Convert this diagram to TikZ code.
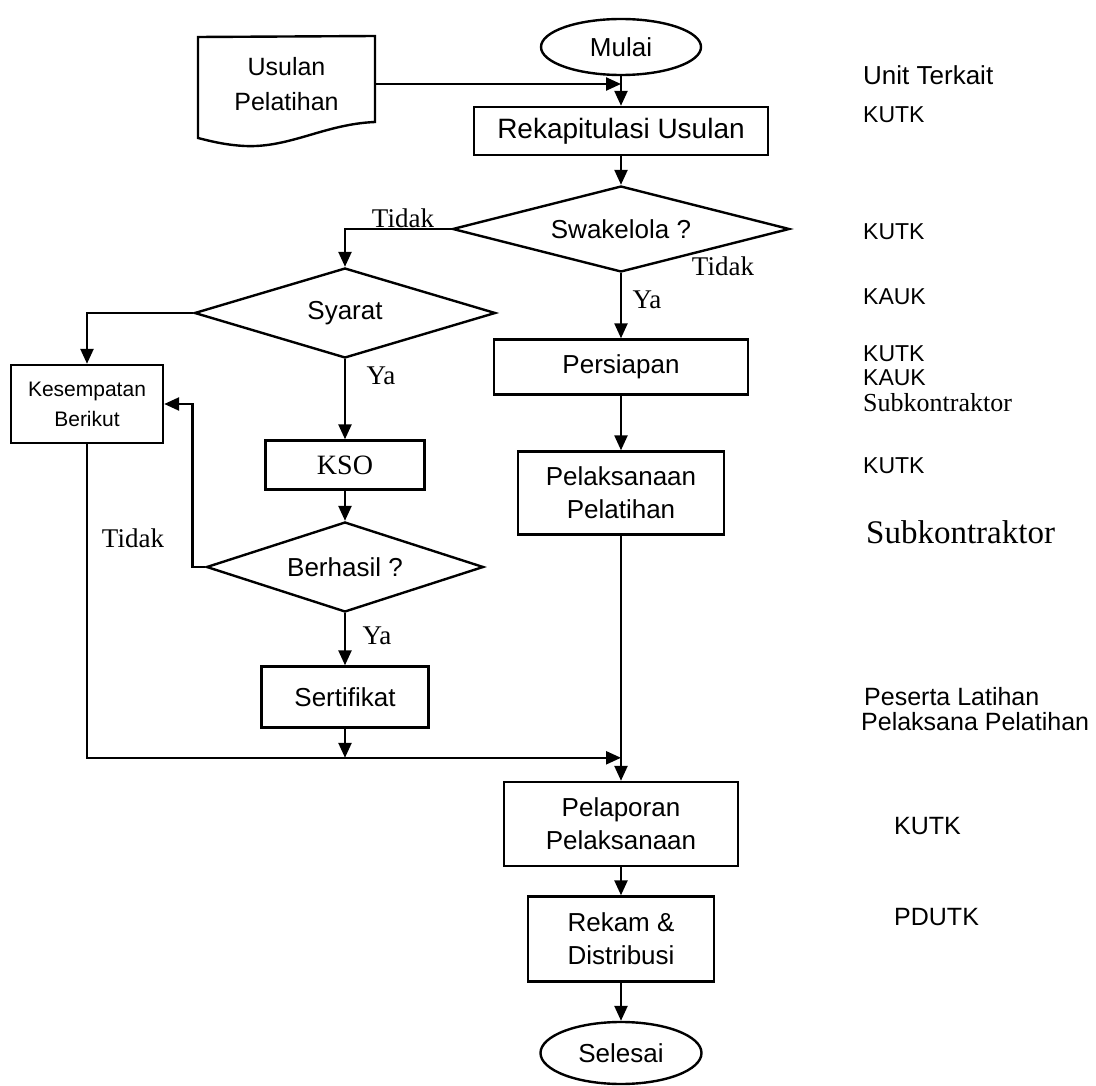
\documentclass[tikz,border=0pt]{standalone}
\usepackage{fontspec}
\setmainfont{Liberation Serif}
\newfontfamily\sansf{Liberation Sans}
\usetikzlibrary{shapes.geometric,arrows.meta}
\begin{document}
\begin{tikzpicture}[x=1pt,y=-1pt,line width=2.4pt,
  every node/.style={inner sep=0pt},
  box/.style={draw,rectangle,align=center,font=\sansf\fontsize{26}{33}\selectfont},
  sbox/.style={draw,rectangle,align=center,font=\fontsize{28}{33}\selectfont},
  term/.style={draw,ellipse,font=\sansf\fontsize{26}{33}\selectfont},
  dec/.style={draw,diamond,aspect=3.5,font=\sansf\fontsize{26}{33}\selectfont},
  doctext/.style={align=center,font=\sansf\fontsize{25}{35}\selectfont},
  lbl/.style={font=\fontsize{27}{30}\selectfont},
  unit/.style={anchor=west,font=\sansf\fontsize{23}{26}\selectfont},
  unitser/.style={anchor=west,font=\fontsize{26}{28}\selectfont},
  arr/.style={-{Triangle[length=15pt,width=13pt]}}]
\useasboundingbox (0,0) rectangle (1096,1086);

% document shape
\node[doctext,minimum width=177] (usulan) at (286.5,84) {Usulan\\Pelatihan};
\draw (198,37) -- (375,36) -- (375,122)
  .. controls (325,124) and (290,148) .. (245,146)
  .. controls (225,145) and (210,141) .. (198,138) -- cycle;

% main column
\node[term,minimum width=160,minimum height=56] (mulai) at (621,47) {Mulai};
\node[box,minimum width=294,minimum height=48,font=\sansf\fontsize{28}{33}\selectfont] (rekap) at (621,131) {Rekapitulasi Usulan};
\node[dec,minimum width=337,minimum height=86] (swa) at (621,229) {Swakelola ?};
\node[box,minimum width=254,minimum height=55] (pers) at (621,367) {Persiapan};
\node[box,minimum width=206,minimum height=83] (pelak) at (621,493) {Pelaksanaan\\Pelatihan};
\node[box,minimum width=234,minimum height=84] (lapor) at (621,824) {Pelaporan\\Pelaksanaan};
\node[box,minimum width=186,minimum height=85] (rekam) at (621,939) {Rekam \&\\Distribusi};
\node[term,minimum width=161,minimum height=62] (selesai) at (621,1053) {Selesai};

% left column
\node[dec,minimum width=301,minimum height=90] (syarat) at (345,313) {Syarat};
\node[box,minimum width=152,minimum height=78,font=\sansf\fontsize{21}{30}\selectfont] (kes) at (87,404) {Kesempatan\\Berikut};
\node[sbox,minimum width=159,minimum height=49] (kso) at (345,465) {KSO};
\node[dec,minimum width=277,minimum height=90] (ber) at (345,567) {Berhasil ?};
\node[box,minimum width=167,minimum height=61] (sert) at (345,697) {Sertifikat};

\path (lapor.north) ++(0,-23) coordinate (join);

% connectors
\draw[arr] (mulai.south) -- (rekap.north);
\draw[arr] (usulan.east) -- (usulan.east -| mulai.south);
\draw[arr] (rekap.south) -- (swa.north);
\draw[arr] (swa.west) -| (syarat.north);
\draw[arr] (swa.south) -- (pers.north);
\draw[arr] (syarat.west) -| (kes.north);
\draw[arr] (syarat.south) -- (kso.north);
\draw[arr] (kso.south) -- (ber.north);
\draw[arr] (ber.west) -- ++(-13,0) |- (kes.east);
\draw[arr] (ber.south) -- (sert.north);
\draw[arr] (sert.south) -- (sert.south |- join);
\draw[arr] (kes.south) |- (join);
\draw[arr] (pers.south) -- (pelak.north);
\draw[arr] (pelak.south) -- (lapor.north);
\draw[arr] (lapor.south) -- (rekam.north);
\draw[arr] (rekam.south) -- (selesai.north);

% branch labels
\node[lbl] (t1) at (403,218) {Tidak};
\node[lbl] (t2) at (723,266) {Tidak};
\node[lbl] (y1) at (647,300) {Ya};
\node[lbl] (y2) at (381,376) {Ya};
\node[lbl] (t3) at (133,538) {Tidak};
\node[lbl] (y3) at (377,636) {Ya};

% units
\node[unit,font=\sansf\fontsize{26}{30}\selectfont] (u0) at (862,75) {Unit Terkait};
\node[unit] (u1) at (862,115) {KUTK};
\node[unit] (u2) at (862,232) {KUTK};
\node[unit] (u3) at (862,297) {KAUK};
\node[unit] (u4) at (862,354) {KUTK};
\node[unit] (u5) at (862,378) {KAUK};
\node[unitser] (u6) at (862,403) {Subkontraktor};
\node[unit] (u7) at (862,466) {KUTK};
\node[unitser,font=\fontsize{33}{36}\selectfont] (u8) at (865,532) {Subkontraktor};
\node[unit,font=\sansf\fontsize{25}{28}\selectfont] (u9) at (863,697) {Peserta Latihan};
\node[unit,font=\sansf\fontsize{25}{28}\selectfont] (u10) at (860,722) {Pelaksana Pelatihan};
\node[unit,font=\sansf\fontsize{25}{28}\selectfont] (u11) at (893,826) {KUTK};
\node[unit,font=\sansf\fontsize{25}{28}\selectfont] (u12) at (893,917) {PDUTK};
\end{tikzpicture}
\end{document}
